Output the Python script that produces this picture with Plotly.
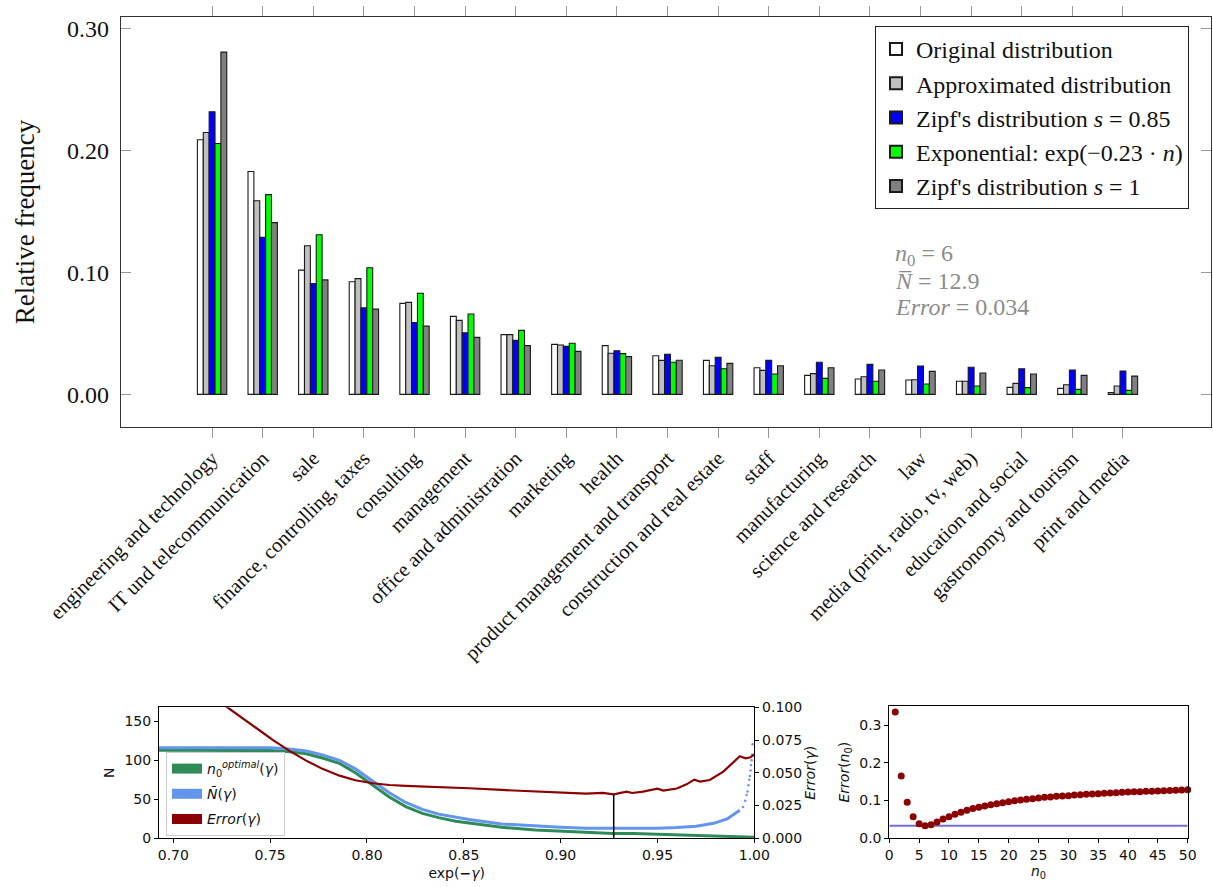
import plotly.graph_objects as go

# ---------------- data: main bar chart ----------------
categories = ["engineering and technology", "IT und telecommunication", "sale",
              "finance, controlling, taxes", "consulting", "management",
              "office and administration", "marketing", "health",
              "product management and transport", "construction and real estate",
              "staff", "manufacturing", "science and research", "law",
              "media (print, radio, tv, web)", "education and social",
              "gastronomy and tourism", "print and media"]
original = [0.209, 0.183, 0.102, 0.0925, 0.0747, 0.064, 0.049, 0.041, 0.040, 0.0317,
            0.0279, 0.0219, 0.0156, 0.0126, 0.0118, 0.0107, 0.0057, 0.0049, 0.0014]
approximated = [0.215, 0.159, 0.122, 0.095, 0.0755, 0.0607, 0.049, 0.0405, 0.0337, 0.0279,
                0.0235, 0.0197, 0.017, 0.0145, 0.012, 0.0107, 0.009, 0.0079, 0.0068]
zipf_085 = [0.232, 0.129, 0.091, 0.071, 0.059, 0.0506, 0.0443, 0.0394, 0.0358, 0.0328,
            0.0304, 0.0279, 0.0263, 0.0246, 0.0233, 0.0222, 0.021, 0.020, 0.0192]
exponential = [0.206, 0.164, 0.131, 0.104, 0.083, 0.066, 0.0525, 0.0419, 0.0334, 0.0263,
               0.021, 0.0167, 0.0131, 0.0107, 0.0085, 0.0068, 0.0055, 0.0041, 0.0033]
zipf_1 = [0.281, 0.141, 0.094, 0.070, 0.056, 0.0468, 0.040, 0.0353, 0.031, 0.028,
          0.0254, 0.0235, 0.0219, 0.020, 0.0189, 0.0175, 0.0167, 0.0156, 0.015]
y_ticks_main = [0.0, 0.1, 0.2, 0.3]

# ---------------- data: bottom-left (gamma sweep) ----------------
n0_x = [0.6926, 0.70, 0.72, 0.74, 0.75, 0.76, 0.7686, 0.777, 0.7858, 0.794, 0.803, 0.8115,
        0.820, 0.8286, 0.837, 0.8458, 0.8527, 0.8696, 0.887, 0.90, 0.913, 0.927, 0.9375,
        0.95, 0.965, 0.9825, 1.0]
n0_y = [113, 113, 113, 113, 112.5, 111, 108.5, 103, 96, 84, 68, 53, 40.6, 32, 26.5, 22,
        19.5, 14.1, 10.7, 9.4, 7.7, 6, 6, 5.1, 3.8, 3, 1.3]
nbar_x = [0.6926, 0.72, 0.75, 0.76, 0.7686, 0.777, 0.7858, 0.794, 0.803, 0.8115, 0.820,
          0.8286, 0.837, 0.8458, 0.8527, 0.8696, 0.887, 0.90, 0.913, 0.927, 0.9375, 0.95,
          0.96, 0.97, 0.979, 0.986, 0.9908, 0.9925]
nbar_y = [116, 116, 116, 114.5, 112, 107, 100, 89, 73.5, 58.5, 46, 37, 31, 27, 24, 18.4,
          15.4, 14.1, 12.8, 12.9, 12.4, 12.8, 13.7, 15.4, 19.2, 24.8, 33, 36]
nbar_tail_x = [0.9942, 0.9953, 0.996, 0.9965, 0.997, 0.9974, 0.9977, 0.9981, 0.9983,
               0.9986, 0.9988, 0.9991, 1.0]
nbar_tail_y = [40, 48, 55.5, 60, 68, 75, 80, 87, 94, 100, 107, 120.5, 168]
err_x = [0.69, 0.7283, 0.7343, 0.743, 0.7515, 0.760, 0.7686, 0.777, 0.7858, 0.794, 0.803,
         0.8115, 0.820, 0.837, 0.8527, 0.8696, 0.887, 0.90, 0.913, 0.9217, 0.9274, 0.934,
         0.937, 0.9425, 0.950, 0.953, 0.96, 0.965, 0.969, 0.972, 0.977, 0.984, 0.989,
         0.9925, 0.9955, 0.998, 1.0]
err_y = [0.140, 0.100, 0.0936, 0.084, 0.075, 0.0667, 0.0593, 0.053, 0.0478, 0.0443, 0.042,
         0.0407, 0.040, 0.0392, 0.0382, 0.0369, 0.0356, 0.0349, 0.0341, 0.0346, 0.0336,
         0.0356, 0.0346, 0.0356, 0.0379, 0.0364, 0.038, 0.0412, 0.0448, 0.0433, 0.0445,
         0.0509, 0.058, 0.0626, 0.061, 0.0618, 0.064]
opt_gamma = [0.9274, 0.9274]
opt_err = [0.0, 0.0336]

# ---------------- data: bottom-right (error vs n0) ----------------
n0_values = list(range(1, 51))
err_n0 = [0.3345, 0.165, 0.0953, 0.0574, 0.0388, 0.0335, 0.0362, 0.0432, 0.0512, 0.0574,
          0.0635, 0.0688, 0.0741, 0.0786, 0.0821, 0.0856, 0.0891, 0.0918, 0.0944, 0.0971,
          0.0997, 0.1015, 0.1033, 0.105, 0.1068, 0.1086, 0.1094, 0.1112, 0.1121, 0.113,
          0.1147, 0.1156, 0.1165, 0.1174, 0.1183, 0.1191, 0.12, 0.1209, 0.1218, 0.1227,
          0.1231, 0.1236, 0.1244, 0.1249, 0.1253, 0.1262, 0.1267, 0.1271, 0.128, 0.1284]
min_line_x = [0, 50]
min_line_y = [0.0332, 0.0332]

W, H = 1213, 887
def px(x): return x / W
def py(y): return 1 - y / H

SERIF = "Liberation Serif"
SANS = "DejaVu Sans"

fig = go.Figure()

bar_specs = [
    ("Original distribution", original, "#ffffff"),
    ("Approximated distribution", approximated, "#c0c0c0"),
    ("Zipf's distribution <i>s</i> = 0.85", zipf_085, "#0000ff"),
    ("Exponential: exp(−0.23 · <i>n</i>)", exponential, "#00ff00"),
    ("Zipf's distribution <i>s</i> = 1", zipf_1, "#808080"),
]
for i, (name, vals, col) in enumerate(bar_specs):
    fig.add_trace(go.Bar(x=categories, y=vals, name=name, marker_color=col,
                         marker_line_color="#1a1a1a", marker_line_width=1.1,
                         xaxis="x", yaxis="y", legend="legend", legendgroup=f"g{i}"))

# bottom-left lines
GREEN, BLUE, RED = "#2e8b57", "#6495ed", "#8b0000"
fig.add_trace(go.Scatter(x=n0_x, y=n0_y, mode="lines", line=dict(color=GREEN, width=3),
                         xaxis="x2", yaxis="y2", showlegend=False))
fig.add_trace(go.Scatter(x=nbar_x, y=nbar_y, mode="lines", line=dict(color=BLUE, width=3),
                         xaxis="x2", yaxis="y2", showlegend=False))
fig.add_trace(go.Scatter(x=nbar_tail_x, y=nbar_tail_y, mode="markers",
                         marker=dict(color=BLUE, size=2.5), xaxis="x2", yaxis="y2",
                         showlegend=False, cliponaxis=True))
fig.add_trace(go.Scatter(x=err_x, y=err_y, mode="lines", line=dict(color=RED, width=2.2),
                         xaxis="x2", yaxis="y3", showlegend=False))
fig.add_trace(go.Scatter(x=opt_gamma, y=opt_err, mode="lines", line=dict(color="black", width=1.5),
                         xaxis="x2", yaxis="y3", showlegend=False))
# legend-only patch entries
for i, (nm, col) in enumerate([("<i>n</i><sub>0</sub><sup><i>optimal</i></sup>(<i>γ</i>)", GREEN),
                               ("<i>N̄</i>(<i>γ</i>)", BLUE),
                               ("<i>Error</i>(<i>γ</i>)", RED)]):
    fig.add_trace(go.Scatter(x=[None], y=[None], mode="lines", name=nm,
                             line=dict(color=col, width=11), xaxis="x2", yaxis="y2",
                             legend="legend2", legendgroup=f"h{i}"))

# bottom-right
fig.add_trace(go.Scatter(x=min_line_x, y=min_line_y, mode="lines",
                         line=dict(color="#6f6fd2", width=2), xaxis="x3", yaxis="y4",
                         showlegend=False))
fig.add_trace(go.Scatter(x=n0_values, y=err_n0, mode="markers",
                         marker=dict(color=RED, size=7), xaxis="x3", yaxis="y4",
                         showlegend=False, cliponaxis=False))

main_font = dict(family=SERIF, size=24, color="#111")
sans14 = dict(family=SANS, size=14, color="#111")
fig.update_layout(
    width=W, height=H, margin=dict(l=0, r=0, t=0, b=0),
    paper_bgcolor="white", plot_bgcolor="white",
    barmode="group", bargap=0.42, bargroupgap=0,
    showlegend=True,
    xaxis=dict(domain=[px(121), px(1211)], anchor="y", type="category", automargin=False,
               range=[-1.8, 19.74], tickangle=-45, ticks="outside", ticklen=10,
               tickcolor="#999", tickwidth=1, showline=True, linecolor="#333",
               linewidth=1.3, mirror="ticks", showgrid=False,
               tickfont=dict(family=SERIF, size=20.5, color="#111")),
    yaxis=dict(domain=[py(427), py(17)], anchor="x", range=[-0.0268, 0.3098], automargin=False,
               tickvals=y_ticks_main, tickformat=".2f", ticks="inside", ticklen=10,
               tickcolor="#999", showline=True, linecolor="#333", linewidth=1.3,
               mirror="ticks", showgrid=False, zeroline=False, tickfont=main_font,
               ticklabelstandoff=6,
               title=dict(text="Relative frequency", font=dict(family=SERIF, size=27, color="#111"),
                          standoff=24)),
    legend=dict(x=px(1189), y=py(26), xanchor="right", yanchor="top",
                bgcolor="white", bordercolor="#222", borderwidth=1,
                font=dict(family=SERIF, size=24, color="#111"), tracegroupgap=0,
                itemsizing="constant"),
    legend2=dict(x=px(166), y=py(752), xanchor="left", yanchor="top",
                 bgcolor="rgba(255,255,255,0.85)", bordercolor="#cccccc", borderwidth=1,
                 font=dict(family=SANS, size=14, color="#111"),
                 tracegroupgap=4),
    xaxis2=dict(domain=[px(159), px(754.3)], anchor="y2", range=[0.6926, 1.0], automargin=False,
                tickvals=[0.70, 0.75, 0.80, 0.85, 0.90, 0.95, 1.00], tickformat=".2f",
                ticks="outside", ticklen=4, tickcolor="black", showline=True,
                linecolor="black", mirror=True, showgrid=False, zeroline=False,
                tickfont=sans14,
                title=dict(text="exp(<b>−</b><i>γ</i>)", font=sans14, standoff=6)),
    yaxis2=dict(domain=[py(838.3), py(707.3)], anchor="x2", range=[0, 168], automargin=False,
                tickvals=[0, 50, 100, 150], ticks="outside", ticklen=4, tickcolor="black",
                showline=True, linecolor="black", mirror=True, showgrid=False, zeroline=False,
                tickfont=sans14,
                title=dict(text="N", font=sans14, standoff=6)),
    yaxis3=dict(overlaying="y2", side="right", anchor="x2", range=[0, 0.1], automargin=False,
                tickvals=[0, 0.025, 0.05, 0.075, 0.1], tickformat=".3f",
                ticks="outside", ticklen=4, tickcolor="black", showgrid=False, zeroline=False,
                showline=False, tickfont=sans14,
                title=dict(text="<i>Error</i>(<i>γ</i>)", font=sans14, standoff=4)),
    xaxis3=dict(domain=[px(889.3), px(1187.7)], anchor="y4", range=[0, 50], dtick=5,
                automargin=False,
                ticks="outside", ticklen=4, tickcolor="black", showline=True,
                linecolor="black", mirror=True, showgrid=False, zeroline=False,
                tickfont=sans14,
                title=dict(text="<i>n</i><sub>0</sub>", font=sans14, standoff=4)),
    yaxis4=dict(domain=[py(838.3), py(706)], anchor="x3", range=[0, 0.3504], automargin=False,
                tickvals=[0, 0.1, 0.2, 0.3], tickformat=".1f", ticks="outside", ticklen=4,
                tickcolor="black", showline=True, linecolor="black", mirror=True,
                showgrid=False, zeroline=False,
                tickfont=sans14,
                title=dict(text="<i>Error</i>(<i>n</i><sub>0</sub>)", font=sans14, standoff=6)),
)

ann_font = dict(family=SERIF, size=24, color="#8c8c8c")
for yy, txt in [(255, "<i>n</i><sub>0</sub> = 6"), (281, "<i>N̅</i> = 12.9"),
                (307, "<i>Error</i> = 0.034")]:
    fig.add_annotation(x=px(893), y=py(yy), xref="paper", yref="paper", text=txt,
                       showarrow=False, xanchor="left", yanchor="middle", font=ann_font)

fig.write_html("out.html", config={"displayModeBar": False},
               post_script="document.body.style.margin='0px';document.body.style.overflow='hidden';")
